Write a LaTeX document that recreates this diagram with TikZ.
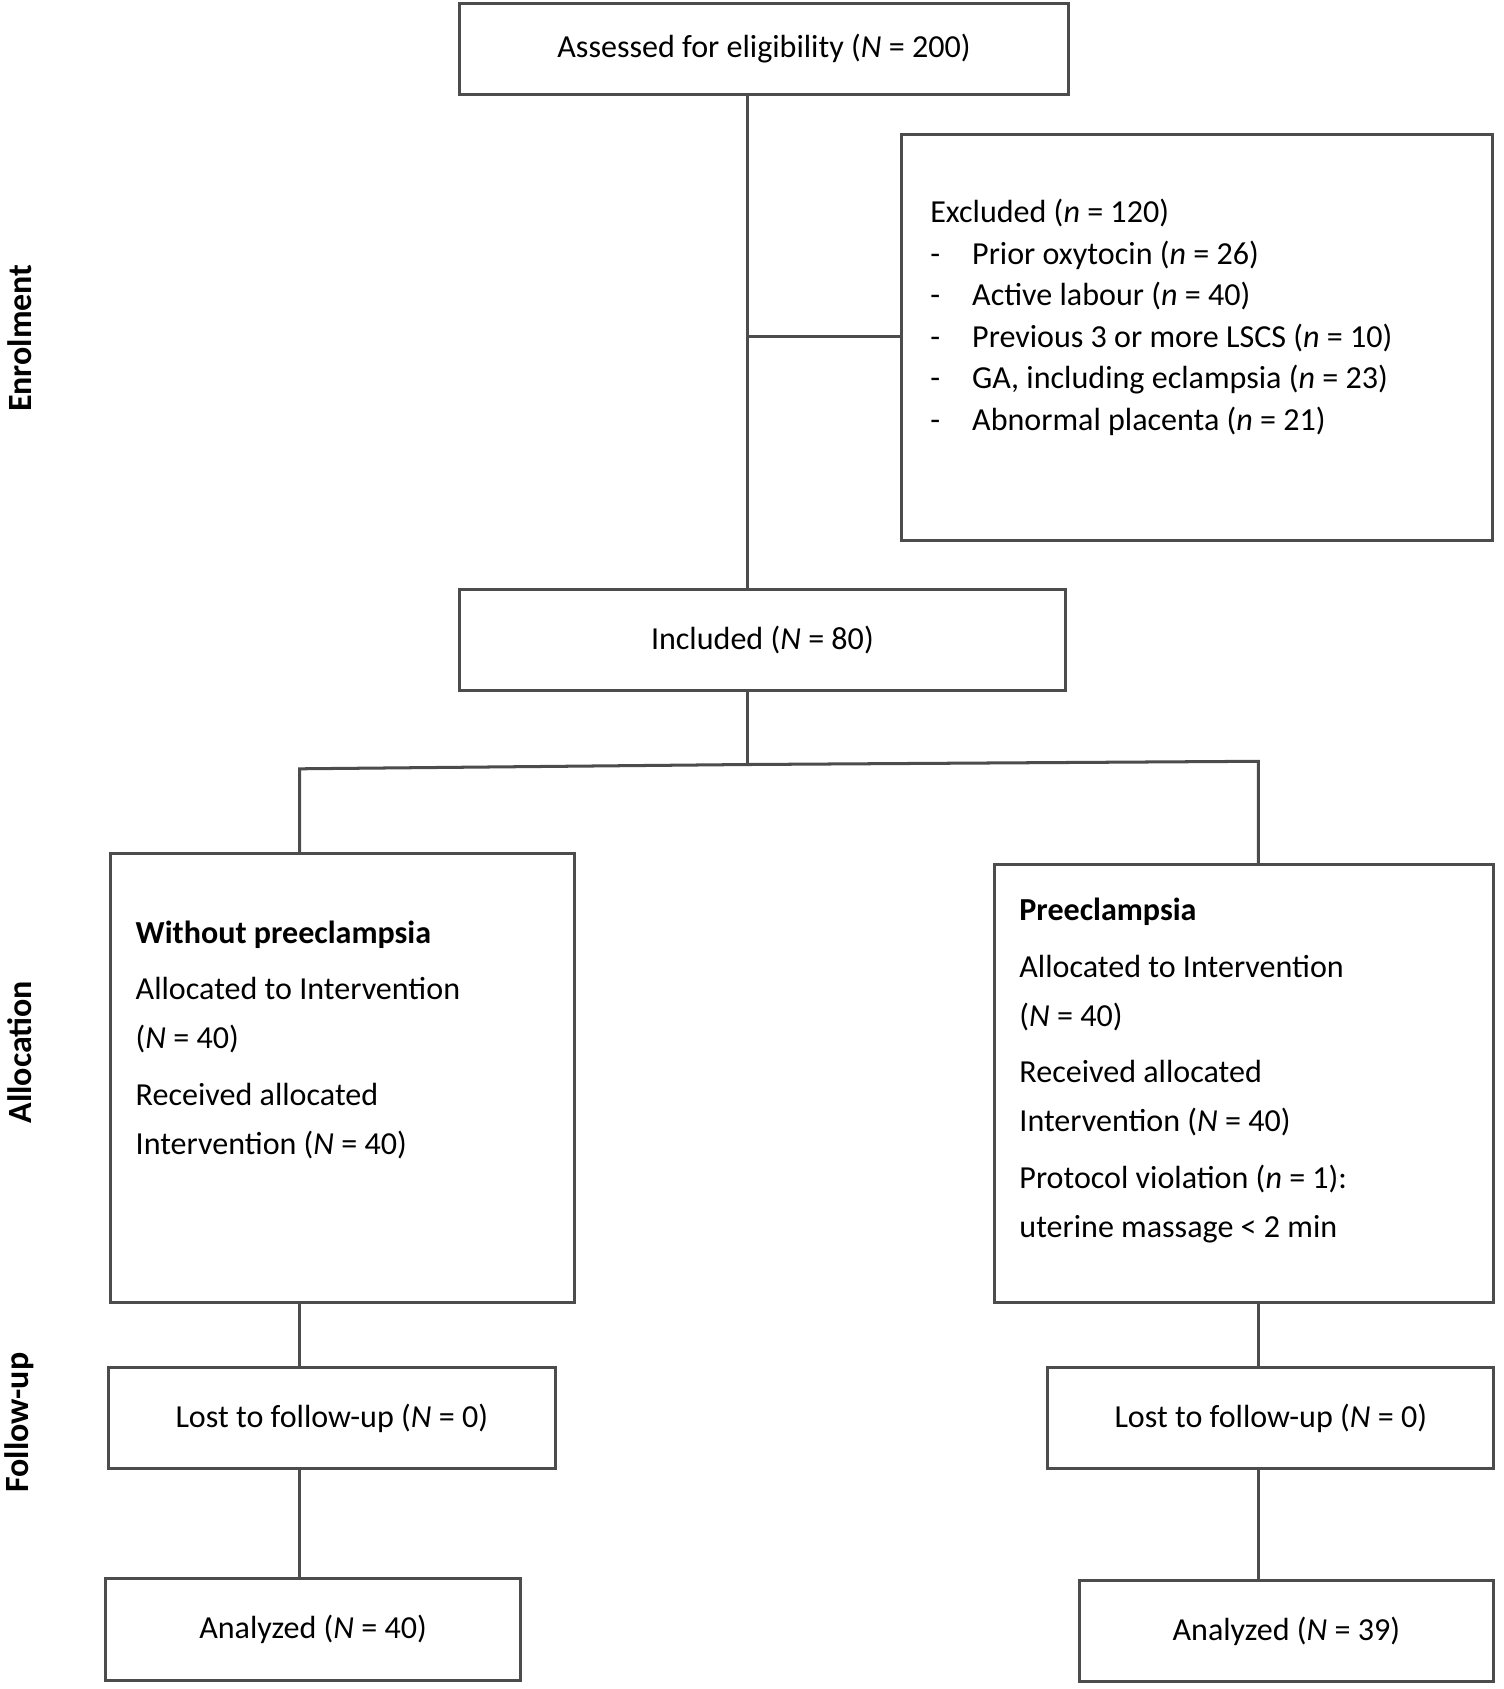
\documentclass[tikz,border=0pt]{standalone}
\usepackage{fontspec}
\setmainfont{Carlito}
\usetikzlibrary{positioning}
\def\LineColor{black!70}
\newcommand{\FlowBox}[6]{%
  \node[B, minimum width={(#4-#2)*0.02cm}, minimum height={(#5-#3)*0.02cm}] (#1) at ({(#2+#4)/2},{(#3+#5)/2}) {#6};}
\begin{document}
\begin{tikzpicture}[
    x=0.02cm, y=-0.02cm,
    B/.style = {draw=\LineColor, line width=1.6pt, inner sep=0pt},
    T/.style = {anchor=north west, align=left, inner sep=0pt, font=\fontsize{17}{26}\selectfont},
    side/.style = {rotate=90, font=\fontsize{18}{22}\selectfont\bfseries},
    every path/.style={line width=1.6pt}
    ]
  \useasboundingbox (0,0) rectangle (1400,1573);
  \fontsize{17}{26}\selectfont

  %%% ENROLMENT %%%
  \FlowBox{assessed}{428}{3}{995}{88}{Assessed for eligibility (\textit{N} = 200)}
  \FlowBox{excluded}{840}{125}{1390}{503}{}
    % text labels
    \node[T] (extxt) at (865,184) {Excluded (\textit{n} = 120)\\[-4pt]
      -\quad Prior oxytocin (\textit{n} = 26)\\[-4pt]
      -\quad Active labour (\textit{n} = 40)\\[-4pt]
      -\quad Previous 3 or more LSCS (\textit{n} = 10)\\[-4pt]
      -\quad GA, including eclampsia (\textit{n} = 23)\\[-4pt]
      -\quad Abnormal placenta (\textit{n} = 21)};
  \FlowBox{included}{428}{549}{992}{643}{Included (\textit{N} = 80)}

  %%% ALLOCATION %%%
  \FlowBox{nopre}{103}{795}{535}{1213}{}
    \node[T] (noptxt) at (125,856) {\textbf{Without preeclampsia}\\[4pt]
      Allocated to Intervention\\ (\textit{N} = 40)\\[4pt]
      Received allocated\\ Intervention (\textit{N} = 40)};
  \FlowBox{pre}{926}{805}{1391}{1213}{}
    \node[T] (pretxt) at (948,835) {\textbf{Preeclampsia}\\[4pt]
      Allocated to Intervention\\ (\textit{N} = 40)\\[4pt]
      Received allocated\\ Intervention (\textit{N} = 40)\\[4pt]
      Protocol violation (\textit{n} = 1):\\ uterine massage < 2 min};

  %%% FOLLOW-UP %%%
  \FlowBox{lostl}{101}{1274}{517}{1368}{Lost to follow-up (\textit{N} = 0)}
  \FlowBox{lostr}{976}{1274}{1391}{1368}{Lost to follow-up (\textit{N} = 0)}
  \FlowBox{anal}{98}{1470}{485}{1565}{Analyzed (\textit{N} = 40)}
  \FlowBox{anar}{1005}{1472}{1391}{1566}{Analyzed (\textit{N} = 39)}

  % side labels
  \node[side] (enrol) at (18,315) {Enrolment};
  \node[side] (alloc) at (18,980) {Allocation};
  \node[side] (follow) at (18,1325) {Follow-up};

  % Edges
  \coordinate (split) at (696,313);
  \coordinate (fork) at (696,712);
  \coordinate (forkl) at (279,716);
  \coordinate (forkr) at (1172,709);
  \draw[\LineColor] (assessed.south -| split) -- (included.north -| split);
  \draw[\LineColor] (split) -- (split -| excluded.west);
  \draw[\LineColor] (included.south -| fork) -- (fork);
  \draw[\LineColor] (nopre.north -| forkl) -- (forkl) -- (fork) -- (forkr) -- (pre.north -| forkr);
  \draw[\LineColor] (nopre.south -| forkl) -- (lostl.north -| forkl);
  \draw[\LineColor] (lostl.south -| forkl) -- (anal.north -| forkl);
  \draw[\LineColor] (pre.south -| forkr) -- (lostr.north -| forkr);
  \draw[\LineColor] (lostr.south -| forkr) -- (anar.north -| forkr);
\end{tikzpicture}
\end{document}
